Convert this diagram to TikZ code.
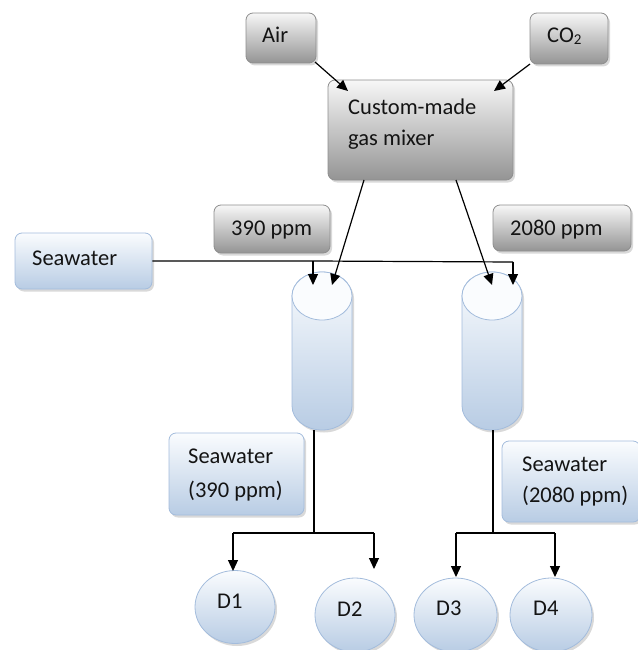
\documentclass[tikz,border=0pt]{standalone}
\usepackage{fontspec}
\setmainfont{Carlito}
\usetikzlibrary{shadows,shapes.geometric,arrows.meta}
\definecolor{gTop}{HTML}{F7F7F7}
\definecolor{gBot}{HTML}{949494}
\definecolor{gLine}{HTML}{8E8E8E}
\definecolor{bTop}{HTML}{FAFCFE}
\definecolor{bBot}{HTML}{B8CCE4}
\definecolor{bLine}{HTML}{A3BCDC}
\definecolor{txt}{HTML}{141414}
\begin{document}
\begin{tikzpicture}[x=1pt,y=-1pt,
  shad/.style={drop shadow={shadow xshift=2pt,shadow yshift=-2.5pt,opacity=.3}},
  greybox/.style={draw=gLine, line width=0.8pt, rounded corners=7pt, top color=gTop, bottom color=gBot, shad, inner sep=0pt},
  bluebox/.style={draw=bLine, line width=0.8pt, rounded corners=7pt, top color=bTop, bottom color=bBot, shad, inner sep=0pt},
  disc/.style={ellipse, draw=bLine, line width=0.8pt, top color=bTop, bottom color=bBot, shad, inner sep=0pt},
  cylbody/.style={draw=bLine, line width=0.8pt, top color=bTop, bottom color=bBot, shad},
  cyltop/.style={draw=bLine, line width=0.8pt, fill=bTop},
  lbl/.style={anchor=base west, inner sep=0pt, font=\fontsize{22.5}{27}\selectfont, text=txt},
  arr/.style={-{Triangle[length=11pt,width=10pt]}, line width=1.2pt},
  ln/.style={line width=1.2pt}
]
\useasboundingbox (0,0) rectangle (637,650);

% grey boxes
\node[greybox, minimum width=70pt, minimum height=50pt] (air) at (281,38) {};
\node[greybox, minimum width=78pt, minimum height=51pt] (co2) at (569,38.5) {};
\node[greybox, minimum width=185pt, minimum height=100pt] (mixer) at (420.5,130) {};
\node[greybox, minimum width=116pt, minimum height=48pt] (p390) at (272,229) {};
\node[greybox, minimum width=138pt, minimum height=46pt] (p2080) at (562,228) {};

% blue boxes
\node[bluebox, minimum width=137pt, minimum height=56pt] (sea) at (83.5,261) {};
\node[bluebox, minimum width=135pt, minimum height=82pt] (sea390) at (236.5,474) {};
\node[bluebox, minimum width=138pt, minimum height=81pt] (sea2080) at (571,481.5) {};

% texts
\node[lbl] (tair) at (262,43) {Air};
\node[lbl] (tco2) at (547,43) {CO\raisebox{-1.5pt}{\fontsize{15}{15}\selectfont 2}};
\node[lbl] (tmix1) at (348,115) {Custom-made};
\node[lbl] (tmix2) at (348,145) {gas mixer};
\node[lbl] (t390) at (231,235) {390 ppm};
\node[lbl] (t2080) at (510,235) {2080 ppm};
\node[lbl] (tsea) at (32,265) {Seawater};
\node[lbl] (ts390a) at (188,463) {Seawater};
\node[lbl] (ts390b) at (188,497) {(390 ppm)};
\node[lbl] (ts2080a) at (522,471) {Seawater};
\node[lbl] (ts2080b) at (522,502) {(2080 ppm)};

% cylinders
\path[cylbody] (292,296) -- (292,406) arc[start angle=180,end angle=360,x radius=30pt,y radius=24pt] -- (352,296) arc[start angle=0,end angle=180,x radius=30pt,y radius=24pt] -- cycle;
\draw[cyltop] (322,296) ellipse [x radius=30pt, y radius=24pt];
\path[cylbody] (462,296) -- (462,406) arc[start angle=180,end angle=360,x radius=30pt,y radius=24pt] -- (522,296) arc[start angle=0,end angle=180,x radius=30pt,y radius=24pt] -- cycle;
\draw[cyltop] (492,296) ellipse [x radius=30pt, y radius=24pt];

% discs
\node[disc, minimum width=80pt, minimum height=73pt] (d1) at (235,607) {};
\node[disc, minimum width=80pt, minimum height=74pt] (d2) at (355,615) {};
\node[disc, minimum width=83pt, minimum height=74pt] (d3) at (455.5,615) {};
\node[disc, minimum width=82pt, minimum height=74pt] (d4) at (551,615) {};
\node[lbl] (td1) at (217,608) {D1};
\node[lbl] (td2) at (337,616) {D2};
\node[lbl] (td3) at (436,615) {D3};
\node[lbl] (td4) at (533,615) {D4};

% coordinates
\coordinate (airOut) at (315,62);
\coordinate (mixInL) at (348,91);
\coordinate (co2Out) at (530,64);
\coordinate (mixInR) at (494,91);
\coordinate (mixOutL) at (364,180);
\coordinate (mixOutR) at (456,180);
\coordinate (cylLinA) at (332,285);
\coordinate (cylRinA) at (492,285);
\coordinate (seaJ1) at (313,261);
\coordinate (seaJ2) at (513,262);
\coordinate (cylLinW) at (313,285);
\coordinate (cylRinW) at (513,285);
\coordinate (cylLout) at (314,430);
\coordinate (cylRout) at (493,430);
\coordinate (brL) at (314,533);
\coordinate (brL1) at (233,533);
\coordinate (brL2) at (374,533);
\coordinate (brR) at (493,533);
\coordinate (brR1) at (456,533);
\coordinate (brR2) at (555,533);
\coordinate (d1in) at (233,571);
\coordinate (d2in) at (374,569);
\coordinate (d3in) at (456,577);
\coordinate (d4in) at (555,577);

% connectors
\draw[arr] (airOut) -- (mixInL);
\draw[arr] (co2Out) -- (mixInR);
\draw[arr] (mixOutL) -- (cylLinA);
\draw[arr] (mixOutR) -- (cylRinA);
\draw[ln] (sea.east |- 0,261) -- (seaJ1) -- (seaJ2);
\draw[arr] (seaJ1) -- (cylLinW);
\draw[arr] (seaJ2) -- (cylRinW);
\draw[ln] (cylLout) -- (brL);
\draw[ln] (brL1) -- (brL2);
\draw[arr] (brL1) -- (d1in);
\draw[arr] (brL2) -- (d2in);
\draw[ln] (cylRout) -- (brR);
\draw[ln] (brR1) -- (brR2);
\draw[arr] (brR1) -- (d3in);
\draw[arr] (brR2) -- (d4in);
\end{tikzpicture}
\end{document}
